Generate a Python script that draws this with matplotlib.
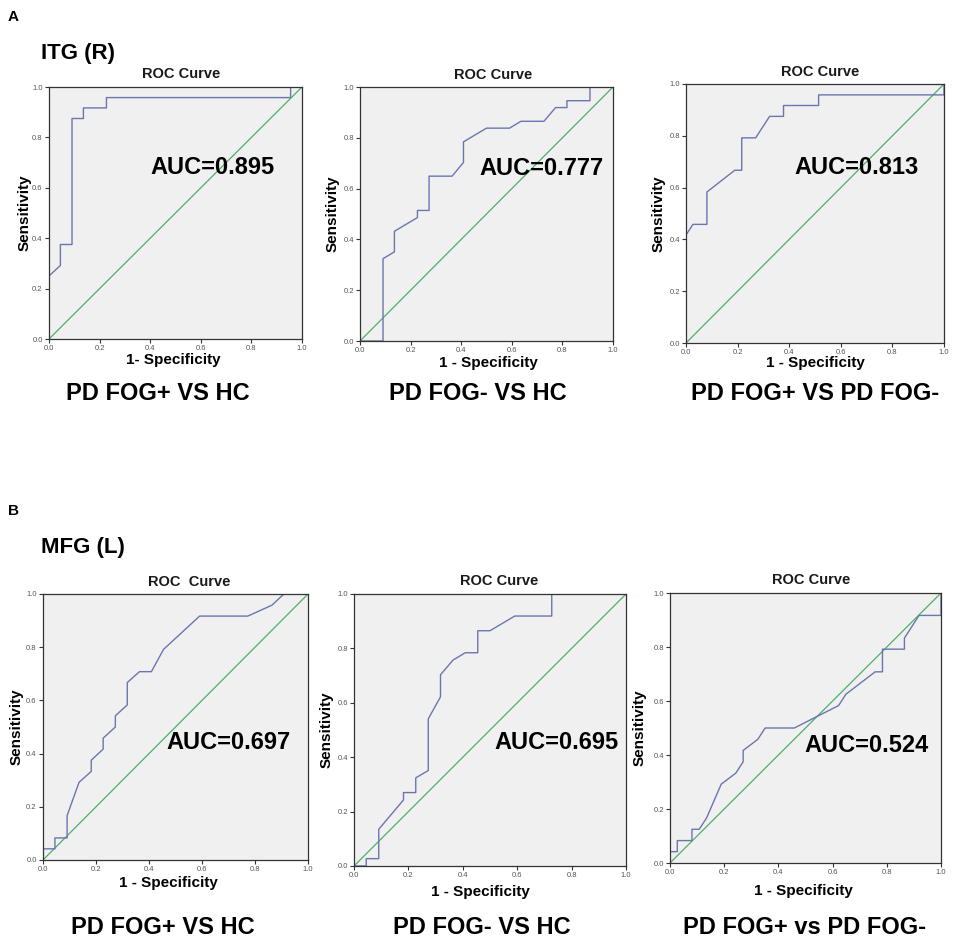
import matplotlib
matplotlib.use("Agg")
import matplotlib.pyplot as plt

plt.rcParams['font.family'] = ['Liberation Sans', 'DejaVu Sans']

# ---------------- data ----------------
# Panel A: ITG (R)
a1_fpr = [0, 0, 0.045, 0.045, 0.091, 0.091, 0.136, 0.136, 0.227, 0.227, 0.955, 0.955, 1.0]
a1_tpr = [0, 0.25, 0.292, 0.375, 0.375, 0.875, 0.875, 0.917, 0.917, 0.958, 0.958, 1.0, 1.0]

a2_fpr = [0, 0.091, 0.091, 0.136, 0.136, 0.227, 0.227, 0.273, 0.273, 0.364, 0.409, 0.409,
          0.5, 0.591, 0.636, 0.727, 0.773, 0.818, 0.818, 0.909, 0.909, 1.0]
a2_tpr = [0, 0, 0.324, 0.351, 0.432, 0.486, 0.514, 0.514, 0.649, 0.649, 0.703, 0.784,
          0.838, 0.838, 0.865, 0.865, 0.919, 0.919, 0.946, 0.946, 1.0, 1.0]

a3_fpr = [0, 0, 0.027, 0.081, 0.081, 0.189, 0.216, 0.216, 0.270, 0.324, 0.378, 0.378,
          0.514, 0.514, 1.0, 1.0]
a3_tpr = [0, 0.417, 0.458, 0.458, 0.583, 0.667, 0.667, 0.792, 0.792, 0.875, 0.875, 0.917,
          0.917, 0.958, 0.958, 1.0]

# Panel B: MFG (L)
b1_fpr = [0, 0, 0.045, 0.045, 0.091, 0.091, 0.136, 0.182, 0.182, 0.227, 0.227, 0.273, 0.273,
          0.318, 0.318, 0.364, 0.409, 0.455, 0.591, 0.773, 0.864, 0.909, 1.0]
b1_tpr = [0, 0.042, 0.042, 0.083, 0.083, 0.167, 0.292, 0.333, 0.375, 0.417, 0.458, 0.5, 0.542,
          0.583, 0.667, 0.708, 0.708, 0.792, 0.917, 0.917, 0.958, 1.0, 1.0]

b2_fpr = [0, 0.045, 0.045, 0.091, 0.091, 0.182, 0.182, 0.227, 0.227, 0.273, 0.273, 0.318,
          0.318, 0.364, 0.409, 0.455, 0.455, 0.5, 0.591, 0.727, 0.727, 1.0]
b2_tpr = [0, 0, 0.027, 0.027, 0.135, 0.243, 0.270, 0.270, 0.324, 0.351, 0.541, 0.622,
          0.703, 0.757, 0.784, 0.784, 0.865, 0.865, 0.919, 0.919, 1.0, 1.0]

b3_fpr = [0, 0, 0.027, 0.027, 0.081, 0.081, 0.108, 0.135, 0.189, 0.243, 0.270, 0.270, 0.324,
          0.351, 0.459, 0.541, 0.622, 0.649, 0.757, 0.784, 0.784, 0.865, 0.865, 0.919, 1.0, 1.0]
b3_tpr = [0, 0.042, 0.042, 0.083, 0.083, 0.125, 0.125, 0.167, 0.292, 0.333, 0.375, 0.417, 0.458,
          0.5, 0.5, 0.542, 0.583, 0.625, 0.708, 0.708, 0.792, 0.792, 0.833, 0.917, 0.917, 1.0]

auc_labels = ["AUC=0.895", "AUC=0.777", "AUC=0.813", "AUC=0.697", "AUC=0.695", "AUC=0.524"]
comparisons = ["PD FOG+ VS HC", "PD FOG- VS HC", "PD FOG+ VS PD FOG-",
               "PD FOG+ VS HC", "PD FOG- VS HC", "PD FOG+ vs PD FOG-"]
panel_titles = ["ROC Curve", "ROC Curve", "ROC Curve", "ROC  Curve", "ROC Curve", "ROC Curve"]
xlabels = ["1- Specificity", "1 - Specificity", "1 - Specificity",
           "1 - Specificity", "1 - Specificity", "1 - Specificity"]
ticks = [0.0, 0.2, 0.4, 0.6, 0.8, 1.0]
tick_labels = ["0.0", "0.2", "0.4", "0.6", "0.8", "1.0"]

curves = [(a1_fpr, a1_tpr), (a2_fpr, a2_tpr), (a3_fpr, a3_tpr),
          (b1_fpr, b1_tpr), (b2_fpr, b2_tpr), (b3_fpr, b3_tpr)]

# ---------------- layout (pixels) ----------------
W, H = 957, 942
fig = plt.figure(figsize=(W / 100, H / 100), dpi=100)
fig.patch.set_facecolor('white')

# axes boxes: left, right, top, bottom in pixels
boxes = [(49, 302, 87, 339), (360, 613, 87, 341), (686, 944, 84, 343),
         (43, 308, 594, 860), (354, 626, 594, 866), (670, 941, 593, 863)]
# AUC text positions (axes fraction, left x / center y)
auc_pos = [(0.40, 0.68), (0.47, 0.68), (0.42, 0.676), (0.464, 0.442), (0.518, 0.453), (0.497, 0.437)]
# ylabel x pixel, xlabel center, comparison center
ylab_x = [25, 333, 659, 17, 327, 640]
xlab_c = [(173, 360), (488, 363), (815, 363), (168, 883), (480, 892), (803, 891)]
comp_c = [(158, 394), (478, 393), (815, 393), (163, 927), (482, 927), (805, 927)]
title_c = [(181, 74), (493, 75), (820, 72), (189, 582), (499, 581), (811, 580)]


def fx(x):
    return x / W


def fy(y):
    return 1 - y / H


for i, (l, r, t, b) in enumerate(boxes):
    ax = fig.add_axes([fx(l), fy(b), (r - l) / W, (b - t) / H])
    ax.set_facecolor('#f0f0f0')
    fpr, tpr = curves[i]
    ax.plot([0, 1], [0, 1], color='#4daf6a', lw=0.9)
    ax.plot(fpr, tpr, color='#6b75b0', lw=1.0)
    ax.set_xlim(0, 1)
    ax.set_ylim(0, 1)
    ax.set_xticks(ticks)
    ax.set_yticks(ticks)
    ax.set_xticklabels(tick_labels)
    ax.set_yticklabels(tick_labels)
    ax.tick_params(axis='both', direction='out', length=3, width=0.8, labelsize=5.5,
                   colors='#333333', labelcolor='#555555', pad=1.5)
    ax.tick_params(axis='x', which='both', top=False)
    ax.tick_params(axis='y', which='both', right=False)
    for s in ax.spines.values():
        s.set_color('#333333')
        s.set_linewidth(0.9)
    ax.text(auc_pos[i][0], auc_pos[i][1], auc_labels[i], transform=ax.transAxes,
            fontsize=17, fontweight='bold', ha='left', va='center', color='black')
    cy = (t + b) / 2
    fig.text(fx(ylab_x[i]), fy(cy), "Sensitivity", rotation=90, fontsize=11,
             fontweight='bold', ha='center', va='center')
    fig.text(fx(xlab_c[i][0]), fy(xlab_c[i][1]), xlabels[i], fontsize=11,
             fontweight='bold', ha='center', va='center')
    fig.text(fx(comp_c[i][0]), fy(comp_c[i][1]), comparisons[i], fontsize=17,
             fontweight='bold', ha='center', va='center')
    fig.text(fx(title_c[i][0]), fy(title_c[i][1]), panel_titles[i], fontsize=10.5,
             fontweight='bold', ha='center', va='center', color='#1a1a1a')

fig.text(fx(8), fy(17), "A", fontsize=11, fontweight='bold', ha='left', va='center')
fig.text(fx(8), fy(511), "B", fontsize=11, fontweight='bold', ha='left', va='center')
fig.text(fx(41), fy(53), "ITG (R)", fontsize=16, fontweight='bold', ha='left', va='center')
fig.text(fx(41), fy(547), "MFG (L)", fontsize=16, fontweight='bold', ha='left', va='center')

fig.savefig("out.png", dpi=100, facecolor='white')
